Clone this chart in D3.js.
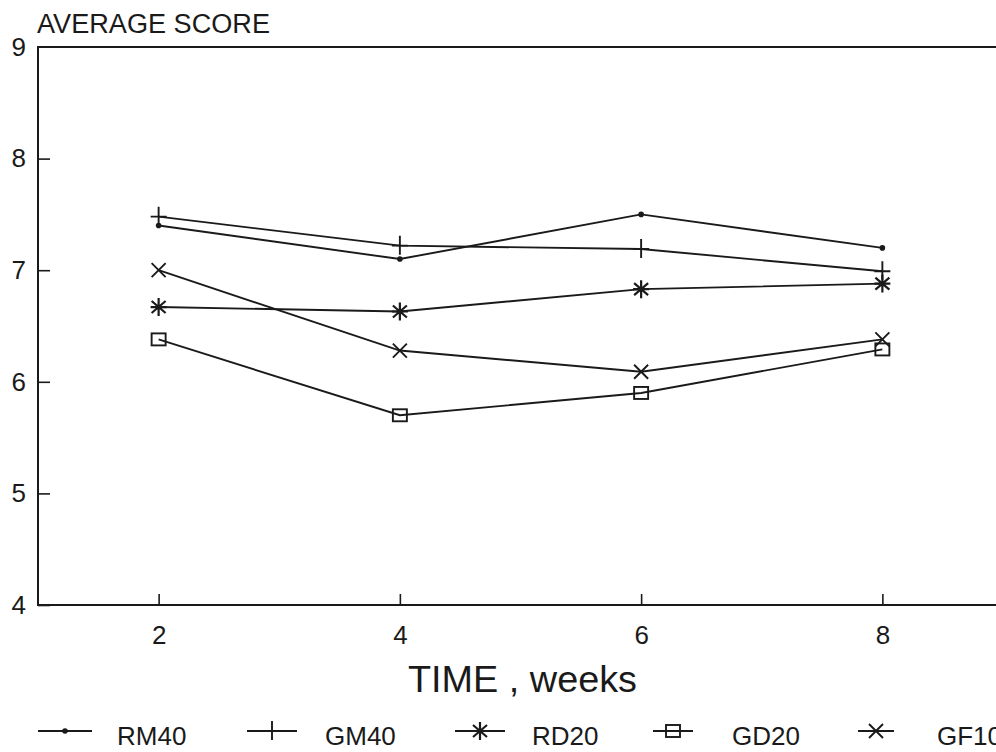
<!DOCTYPE html>
<html>
<head>
<meta charset="utf-8">
<script src="https://cdn.jsdelivr.net/npm/d3@7"></script>
<style>
  body { margin: 0; background: #fff; }
  svg { display: block; }
  text { font-family: "Liberation Sans", Arial, sans-serif; fill: #1a1a1a; }
</style>
</head>
<body>
<div id="chart"></div>
<script>
// data
const weeks = [2, 4, 6, 8];
const seriesNames = ["RM40", "GM40", "RD20", "GD20", "GF10"];
const rm40 = [7.4, 7.1, 7.5, 7.2];
const gm40 = [7.48, 7.22, 7.19, 6.99];
const rd20 = [6.67, 6.63, 6.83, 6.88];
const gd20 = [6.38, 5.7, 5.9, 6.29];
const gf10 = [7.0, 6.28, 6.09, 6.38];
const yTicks = [4, 5, 6, 7, 8, 9];
const xTicks = [2, 4, 6, 8];

const width = 996;
const height = 752;
const ink = "#1a1a1a";

const series = [
  { name: seriesNames[0], values: rm40, mark: "dot" },
  { name: seriesNames[1], values: gm40, mark: "plus" },
  { name: seriesNames[2], values: rd20, mark: "star" },
  { name: seriesNames[3], values: gd20, mark: "square" },
  { name: seriesNames[4], values: gf10, mark: "cross" }
];

let xScale = d3.scaleLinear().domain([1, 9]).range([38, 1003]);
let yScale = d3.scaleLinear().domain([4, 9]).range([605, 47]);

let svg = d3
  .select("#chart")
  .append("svg")
  .attr("width", width)
  .attr("height", height);

// marker drawing, centred on 0,0
function drawMark(g, mark) {
  g.attr("stroke", ink).attr("stroke-width", 1.9).attr("fill", "none");
  if (mark == "dot") {
    g.append("circle").attr("r", 2.8).attr("fill", ink).attr("stroke", "none");
  } else if (mark == "plus") {
    g.append("path").attr("d", "M0,-10V9M-8,0H8");
  } else if (mark == "star") {
    g.append("path").attr("d", "M0,-9V9M-8,0H8M-7,-6L7,6M-7,6L7,-6").attr("stroke-width", 2.2);
  } else if (mark == "square") {
    g.append("rect").attr("x", -7).attr("y", -6).attr("width", 14).attr("height", 12);
  } else if (mark == "cross") {
    g.append("path").attr("d", "M-7,-7L7,7M-7,7L7,-7");
  }
}

// axes
let yAxis = d3.axisLeft(yScale).tickValues(yTicks).tickSize(-12).tickPadding(12).tickFormat(d3.format("d"));
let xAxis = d3.axisBottom(xScale).tickValues(xTicks).tickSize(-11).tickPadding(21).tickFormat(d3.format("d"));

let gy = svg.append("g").attr("transform", "translate(38,0)").call(yAxis);
let gx = svg.append("g").attr("transform", "translate(0,605)").call(xAxis);

[gx, gy].forEach((g) => {
  g.attr("font-size", 26).attr("font-family", "'Liberation Sans', Arial, sans-serif");
  g.select(".domain").remove();
  g.selectAll(".tick line").attr("stroke", ink).attr("stroke-width", 1.6);
  g.selectAll(".tick text").attr("fill", ink);
});
gy.select(".tick:last-of-type line").remove();

// frame: left, bottom and top lines run to the edge
svg.append("path")
  .attr("d", "M" + width + ",47H38V605H" + width)
  .attr("fill", "none")
  .attr("stroke", ink)
  .attr("stroke-width", 2);

// series lines
let line = d3.line()
  .x((d, i) => xScale(weeks[i]))
  .y((d) => yScale(d));

series.forEach((s) => {
  svg.append("path")
    .datum(s.values)
    .attr("d", line)
    .attr("fill", "none")
    .attr("stroke", ink)
    .attr("stroke-width", 1.9);
  s.values.forEach((v, i) => {
    let g = svg.append("g")
      .attr("transform", "translate(" + xScale(weeks[i]) + "," + yScale(v) + ")");
    drawMark(g, s.mark);
  });
});

// titles
svg.append("text")
  .attr("x", 37)
  .attr("y", 33)
  .attr("textLength", 233)
  .attr("lengthAdjust", "spacingAndGlyphs")
  .style("font-size", "27px")
  .text("AVERAGE SCORE");

svg.append("text")
  .attr("x", 408)
  .attr("y", 692)
  .attr("textLength", 229)
  .attr("lengthAdjust", "spacingAndGlyphs")
  .style("font-size", "37px")
  .text("TIME , weeks");

// legend
const legendLayout = [
  { sx: 38, sw: 54, tx: 117 },
  { sx: 247, sw: 50, tx: 325 },
  { sx: 455, sw: 50, tx: 532 },
  { sx: 653, sw: 40, tx: 732 },
  { sx: 858, sw: 36, tx: 937 }
];
const legendY = 731;

series.forEach((s, i) => {
  let l = legendLayout[i];
  svg.append("line")
    .attr("x1", l.sx).attr("x2", l.sx + l.sw)
    .attr("y1", legendY).attr("y2", legendY)
    .attr("stroke", ink).attr("stroke-width", 1.9);
  let g = svg.append("g")
    .attr("transform", "translate(" + (l.sx + l.sw / 2) + "," + legendY + ")");
  drawMark(g, s.mark);
  svg.append("text")
    .attr("x", l.tx)
    .attr("y", 745)
    .style("font-size", "26px")
    .text(s.name);
});
</script>
</body>
</html>
